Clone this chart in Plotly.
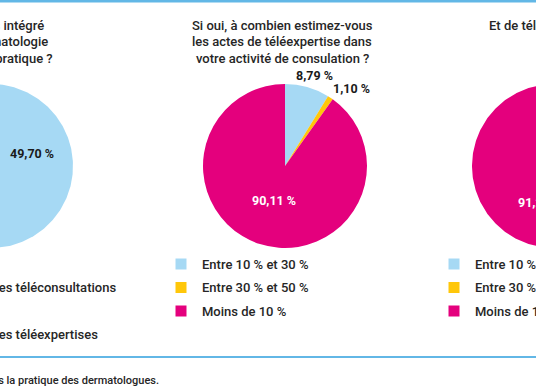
import numpy as np
import plotly.graph_objects as go

W, H = 536, 386

# ---------------- data ----------------
left_labels = ["Oui, pour des téléconsultations", "Oui, pour des téléexpertises"]
left_values = [49.70, 50.30]

mid_labels = ["Entre 10 % et 30 %", "Entre 30 % et 50 %", "Moins de 10 %"]
mid_values = [8.79, 1.10, 90.11]

right_labels = ["Entre 10 % et 30 %", "Entre 30 % et 50 %", "Moins de 10 %"]
right_values = [7.69, 1.10, 91.21]

left_title = ["Avez-vous intégré", "la télédermatologie", "dans votre pratique ?"]
mid_title = ["Si oui, à combien estimez-vous", "les actes de téléexpertise dans",
             "votre activité de consulation ?"]
right_title = ["Et de téléconsultations ?"]
footer = "Source : enquête sur la place de la télémédecine dans la pratique des dermatologues."

# ---------------- styles ----------------
LIGHT_BLUE = "#A6D9F4"
YELLOW = "#FFC70A"
MAGENTA = "#E4007D"
left_colors = [LIGHT_BLUE, MAGENTA]
mid_colors = [LIGHT_BLUE, YELLOW, MAGENTA]
right_colors = [LIGHT_BLUE, YELLOW, MAGENTA]
RULE = "#62B7E6"
TXT = "#262626"
FONT = "Roboto"

R = 82
CY = 166
LEFT_C, MID_C, RIGHT_C = -9, 285, 554


def fmt(v):
    return f"{v:.2f}".replace(".", ",") + " %"


def pie_polys(fig, cx, cy, r, values, colors):
    total = sum(values)
    start = 0.0
    for v, c in zip(values, colors):
        a0 = start / total * 2 * np.pi
        a1 = (start + v) / total * 2 * np.pi
        t = np.linspace(a0, a1, max(3, int(400 * v / total)))
        xs = np.concatenate([[cx], cx + r * np.sin(t), [cx]])
        ys = np.concatenate([[cy], cy - r * np.cos(t), [cy]])
        fig.add_trace(go.Scatter(x=xs, y=ys, mode="lines", fill="toself",
                                 fillcolor=c, line=dict(width=0, color=c),
                                 hoverinfo="skip", showlegend=False))
        start += v


def mid_angle(values, i):
    total = sum(values)
    s = sum(values[:i])
    return (s + values[i] / 2) / total * 2 * np.pi


fig = go.Figure()

# left and right pies are partly outside the frame -> drawn on pixel axes
pie_polys(fig, LEFT_C, CY, R, left_values, left_colors)
pie_polys(fig, RIGHT_C, CY, R, right_values, right_colors)

# middle pie fully visible
fig.add_trace(go.Pie(
    values=mid_values, labels=mid_labels, sort=False, direction="clockwise",
    rotation=0, marker=dict(colors=mid_colors, line=dict(width=0)),
    textinfo="none", hoverinfo="label+value", showlegend=False,
    domain=dict(x=[(MID_C - R) / W, (MID_C + R) / W],
                y=[(H - CY - R) / H, (H - CY + R) / H]),
))

ann = []


def add_text(x, y, text, size=13, color=TXT, xanchor="center", bold=False):
    ann.append(dict(x=x, y=y, xref="x", yref="y", text=text, showarrow=False,
                    xanchor=xanchor, yanchor="middle",
                    font=dict(family=FONT, size=size, color=color,
                              weight=700 if bold else 500)))


# pie value labels
a = mid_angle(left_values, 0) - 0.28
add_text(LEFT_C + 43 * np.sin(a), CY - 43 * np.cos(a), fmt(left_values[0]),
         size=12.5, color="#1a1a1a", bold=True)
a = mid_angle(mid_values, 2)
add_text(MID_C + 36 * np.sin(a), CY - 36 * np.cos(a), fmt(mid_values[2]),
         size=12.5, color="white", bold=True)
a = mid_angle(mid_values, 0)
add_text(MID_C + 95 * np.sin(a) + 4, CY - 95 * np.cos(a) + 1, fmt(mid_values[0]),
         size=12.5, color="#1a1a1a", bold=True)
a = mid_angle(mid_values, 1)
add_text(MID_C + 97 * np.sin(a) + 13, CY - 97 * np.cos(a) + 3, fmt(mid_values[1]),
         size=12.5, color="#1a1a1a", bold=True)
a = mid_angle(right_values, 2)
add_text(RIGHT_C + 38 * np.sin(a) - 28, CY - 38 * np.cos(a), fmt(right_values[2]),
         size=12.5, color="white", bold=True, xanchor="left")

# titles
for i, (line, xe) in enumerate(zip(left_title, [46, 50, 55])):
    add_text(xe, 25 + 16.5 * i, line, xanchor="right")
for i, line in enumerate(mid_title):
    add_text(MID_C - 3, 25 + 16.5 * i, line)
add_text(487, 25, right_title[0], xanchor="left")

# legends
LEG_Y = [264, 287.5, 311]
leg_x = [181, 454]
for lx, labels, colors in zip(leg_x, [mid_labels, right_labels], [mid_colors, right_colors]):
    fig.add_trace(go.Scatter(x=[lx] * len(labels), y=LEG_Y[:len(labels)], mode="markers",
                             marker=dict(symbol="square", size=11, color=colors,
                                         line=dict(width=0)),
                             hoverinfo="skip", showlegend=False, cliponaxis=False))
    for lab, yy in zip(labels, LEG_Y):
        add_text(lx + 19, yy, lab, xanchor="left")

# left legend (squares outside frame): only text tails visible
for lab, yy, xe in zip(left_labels, [287.5, 334], [118, 100]):
    add_text(xe, yy, lab, xanchor="right")

# footer
add_text(161, 380, footer, size=11, xanchor="right")

shapes = [
    dict(type="line", xref="x", yref="y", x0=0, x1=W, y0=1, y1=1,
         line=dict(color=RULE, width=3)),
    dict(type="line", xref="x", yref="y", x0=0, x1=W, y0=357, y1=357,
         line=dict(color=RULE, width=2)),
]

fig.update_layout(
    width=W, height=H, margin=dict(l=0, r=0, t=0, b=0),
    paper_bgcolor="white", plot_bgcolor="white",
    xaxis=dict(range=[0, W], visible=False, fixedrange=True),
    yaxis=dict(range=[H, 0], visible=False, fixedrange=True),
    annotations=ann, shapes=shapes, showlegend=False,
)

fig.write_html("out.html", config={"displayModeBar": False},
               post_script="document.body.style.margin='0';"
                           "document.body.style.overflow='hidden';")
